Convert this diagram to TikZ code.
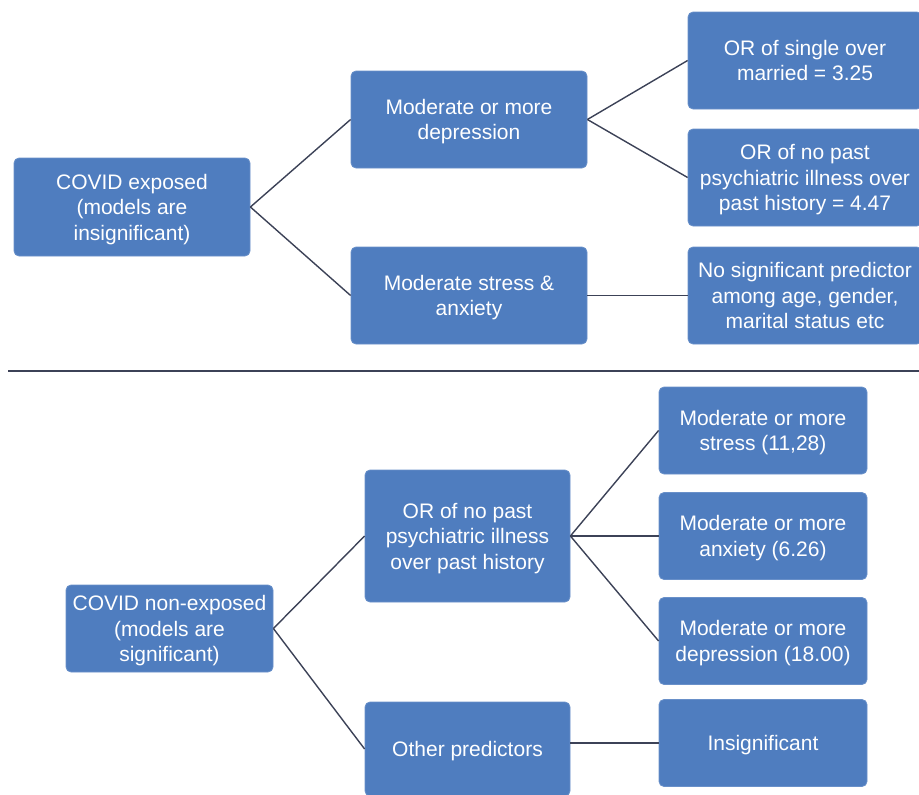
\documentclass[tikz,border=0pt]{standalone}
\usepackage{fontspec}
\setmainfont{Liberation Sans}
\definecolor{boxblue}{HTML}{4F7DBF}
\definecolor{linedark}{HTML}{3C4257}
\begin{document}
\begin{tikzpicture}[x=1pt,y=-1pt,
  box/.style={draw=boxblue!85!white, line width=0.8pt, fill=boxblue, rounded corners=5pt,
    text=white, align=center, inner sep=0pt, text depth=0pt,
    font=\fontsize{21}{25.5}\selectfont},
  conn/.style={draw=linedark, line width=1.4pt}]
\useasboundingbox (0,0) rectangle (919,795);
% top half
\node[box, minimum width=236pt, minimum height=98pt] (ce) at (132,207) {COVID exposed\\(models are\\insignificant)};
\node[box, minimum width=236pt, minimum height=97pt] (dep) at (469,119.5) {Moderate or more\\depression};
\node[box, minimum width=236pt, minimum height=97pt] (sa) at (469,295.5) {Moderate stress \&\\anxiety};
\node[box, minimum width=234pt, minimum height=97pt] (ors) at (805,60.5) {OR of single over\\married = 3.25};
\node[box, minimum width=234pt, minimum height=97pt] (orn) at (805,177.5) {OR of no past\\psychiatric illness over\\past history = 4.47};
\node[box, minimum width=234pt, minimum height=97pt] (nsp) at (805,295.5) {No significant predictor\\among age, gender,\\marital status etc};
\draw[conn] (ce.east) -- (dep.west);
\draw[conn] (ce.east) -- (sa.west);
\draw[conn] (dep.east) -- (ors.west);
\draw[conn] (dep.east) -- (orn.west);
\draw[conn] (sa.east) -- (nsp.west);
% separator
\coordinate (sepL) at (8,371);
\coordinate (sepR) at (919,371);
\draw[draw=linedark, line width=2pt] (sepL) -- (sepR);
% bottom half
\node[box, minimum width=207pt, minimum height=87pt] (cn) at (169.5,628.5) {COVID non-exposed\\(models are\\significant)};
\node[box, minimum width=205pt, minimum height=132pt] (orb) at (467.5,536) {OR of no past\\psychiatric illness\\over past history};
\node[box, minimum width=205pt, minimum height=94pt] (oth) at (467.5,749) {Other predictors};
\node[box, minimum width=208pt, minimum height=87pt] (r1) at (763,430.5) {Moderate or more\\stress (11,28)};
\node[box, minimum width=208pt, minimum height=87pt] (r2) at (763,536) {Moderate or more\\anxiety (6.26)};
\node[box, minimum width=208pt, minimum height=87pt] (r3) at (763,641) {Moderate or more\\depression (18.00)};
\node[box, minimum width=208pt, minimum height=87pt] (r4) at (763,743) {Insignificant};
\draw[conn] (cn.east) -- (orb.west);
\draw[conn] (cn.east) -- (oth.west);
\draw[conn] (orb.east) -- (r1.west);
\draw[conn] (orb.east) -- (r2.west);
\draw[conn] (orb.east) -- (r3.west);
\draw[conn] (oth.east |- r4.west) -- (r4.west);
\end{tikzpicture}
\end{document}
